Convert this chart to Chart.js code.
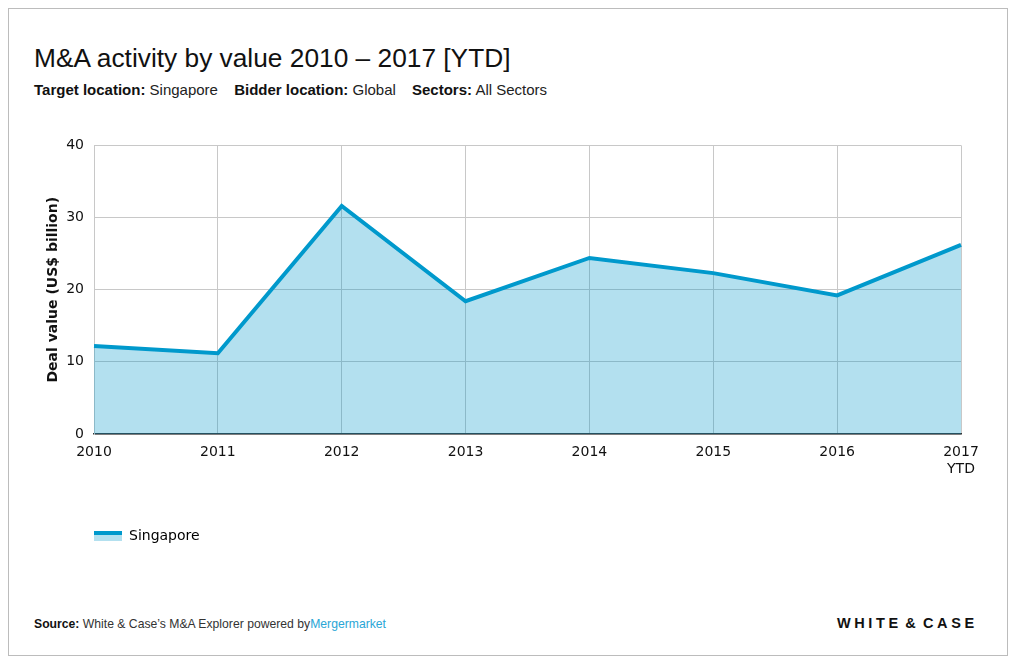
<!DOCTYPE html>
<html>
<head>
<meta charset="utf-8">
<script src="https://cdn.jsdelivr.net/npm/chart.js@4/dist/chart.umd.min.js"></script>
<style>
  body { margin: 0; background: #fff; font-family: "Liberation Sans", Arial, sans-serif; }
  #frame { position: absolute; left: 8px; top: 8px; width: 998px; height: 646px; border: 1px solid #bcbcbc; }
  #title { position: absolute; left: 34px; top: 43px; font-size: 26.3px; color: #111; white-space: nowrap; }
  #sub { position: absolute; left: 34px; top: 81px; font-size: 15px; color: #222; white-space: nowrap; }
  #sub b { color: #111; }
  #sub span { margin-right: 12px; }
  #wrap { position: absolute; left: 30px; top: 127px; width: 960px; height: 426px; }
  #source { position: absolute; left: 34px; top: 617px; font-size: 12.2px; color: #333; white-space: nowrap; }
  #source b { color: #111; }
  #source .mm { color: #2aa6d6; }
  #logo { position: absolute; left: 837px; top: 615px; font-size: 14.5px; font-weight: bold; letter-spacing: 3.6px; word-spacing: -4px; color: #111; white-space: nowrap; }
</style>
</head>
<body>
<div id="frame"></div>
<div id="title">M&amp;A activity by value 2010 – 2017 [YTD]</div>
<div id="sub"><span><b>Target location:</b> Singapore</span> <span><b>Bidder location:</b> Global</span> <span><b>Sectors:</b> All Sectors</span></div>
<div id="wrap"><canvas id="myChart"></canvas></div>
<div id="source"><b>Source:</b> White &amp; Case’s M&amp;A Explorer powered by<span class="mm">Mergermarket</span></div>
<div id="logo">WHITE &amp; CASE</div>
<script>
const years = [['2010'], ['2011'], ['2012'], ['2013'], ['2014'], ['2015'], ['2016'], ['2017', 'YTD']];
const singapore = [12.2, 11.2, 31.6, 18.4, 24.4, 22.3, 19.2, 26.2];
const yTicks = [0, 10, 20, 30, 40];

const lineColor = 'rgb(0, 153, 204)';
const fillColor = 'rgba(2, 152, 202, 0.3)';

// legend swatch: line on top, fill below
const swatch = document.createElement('canvas');
swatch.width = 28;
swatch.height = 10;
const sctx = swatch.getContext('2d');
sctx.fillStyle = '#b3e0ef';
sctx.fillRect(0, 4, 28, 6);
sctx.fillStyle = lineColor;
sctx.fillRect(0, 0, 28, 4);

Chart.defaults.font.family = 'DejaVu Sans';
Chart.defaults.font.size = 14;
Chart.defaults.color = '#222';

// line the legend up with the plot's left edge
const legendShift = {
    id: 'legendShift',
    afterLayout(chart) {
        const lg = chart.legend;
        lg.left = chart.chartArea.left - 10;
    }
};

const ctx = document.getElementById('myChart');
new Chart(ctx, {
    type: 'line',
    data: {
        labels: years,
        datasets: [{
            label: 'Singapore',
            data: singapore,
            borderColor: lineColor,
            backgroundColor: fillColor,
            borderWidth: 4,
            pointRadius: 0,
            fill: 'origin',
            tension: 0
        }]
    },
    options: {
        responsive: true,
        maintainAspectRatio: false,
        animation: false,
        layout: { padding: { left: 15, right: 29, top: 5, bottom: 0 } },
        plugins: {
            tooltip: { enabled: false },
            legend: {
                position: 'bottom',
                align: 'start',
                labels: {
                    usePointStyle: true,
                    pointStyleWidth: 28,
                    boxHeight: 10,
                    padding: 10,
                    color: '#333',
                    generateLabels: chart => [{
                        text: 'Singapore',
                        pointStyle: swatch,
                        datasetIndex: 0,
                        hidden: false
                    }]
                }
            }
        },
        scales: {
            x: {
                grid: { color: '#c8c8c8', drawTicks: false },
                border: { color: '#333', width: 1.5 },
                ticks: { padding: 10, maxRotation: 0, color: '#111' },
                afterFit: scale => { scale.height = 85; }
            },
            y: {
                min: 0,
                max: 40,
                afterBuildTicks: scale => { scale.ticks = yTicks.map(v => ({ value: v })); },
                grid: { color: '#c8c8c8', drawTicks: false },
                border: { color: '#c8c8c8' },
                ticks: { padding: 10, color: '#111' },
                title: { display: true, text: 'Deal value (US$ billion)', font: { weight: 'bold', size: 14 }, color: '#111', padding: { top: 0, bottom: 4 } },
                afterFit: scale => { scale.width = 49; }
            }
        }
    },
    plugins: [legendShift]
});
</script>
</body>
</html>
